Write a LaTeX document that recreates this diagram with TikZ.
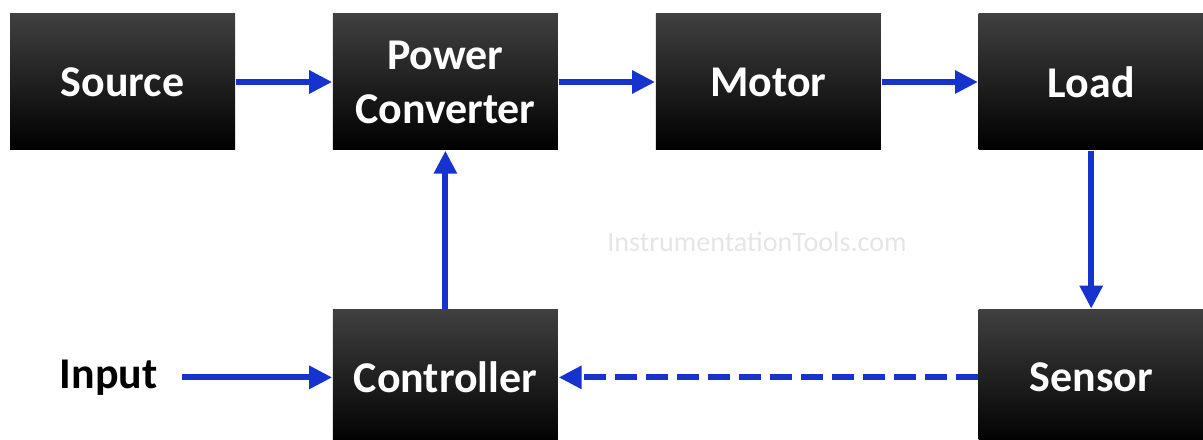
\documentclass[tikz,border=0pt]{standalone}
\usepackage{fontspec}
\setmainfont{Carlito}
\usetikzlibrary{positioning,arrows.meta}
\definecolor{flowblue}{RGB}{22,52,205}

\begin{document}
\begin{tikzpicture}[
node distance=0.965cm,
block/.style={rectangle, minimum width=2.25cm, minimum height=1.36cm, inner sep=0pt,
  top color=black!75, middle color=black, bottom color=black,
  text=white, align=center, font=\fontsize{12.5}{15.4}\selectfont\bfseries},
lbl/.style={inner sep=0.24cm, font=\fontsize{12.5}{15.4}\selectfont\bfseries},
flow/.style={draw=flowblue, line width=0.6mm, -{Triangle[length=2.3mm,width=2.2mm]}}
]
\useasboundingbox (0,0) rectangle (12.03,4.40);

\node[block] (source) at (1.225,3.58) {Source};
\node[block, right=of source] (pc) {Power\\Converter};
\node[block, right=of pc] (motor) {Motor};
\node[block, right=of motor] (load) {Load};
\node[block, below=1.58cm of pc] (ctrl) {Controller};
\node[block, below=1.58cm of load] (sensor) {Sensor};
\node[lbl, left=1.5cm of ctrl] (input) {Input};
\node[text=black!10, font=\fontsize{8}{10}\selectfont] (wm) at (7.57,1.98) {InstrumentationTools.com};

\draw[flow] (source) -- (pc);
\draw[flow] (pc) -- (motor);
\draw[flow] (motor) -- (load);
\draw[flow] (load) -- (sensor);
\draw[flow] (ctrl) -- (pc);
\draw[flow] (input) -- (ctrl);
\draw[flow, dash pattern=on 2.2mm off 0.9mm] (sensor) -- (ctrl);
\end{tikzpicture}
\end{document}
